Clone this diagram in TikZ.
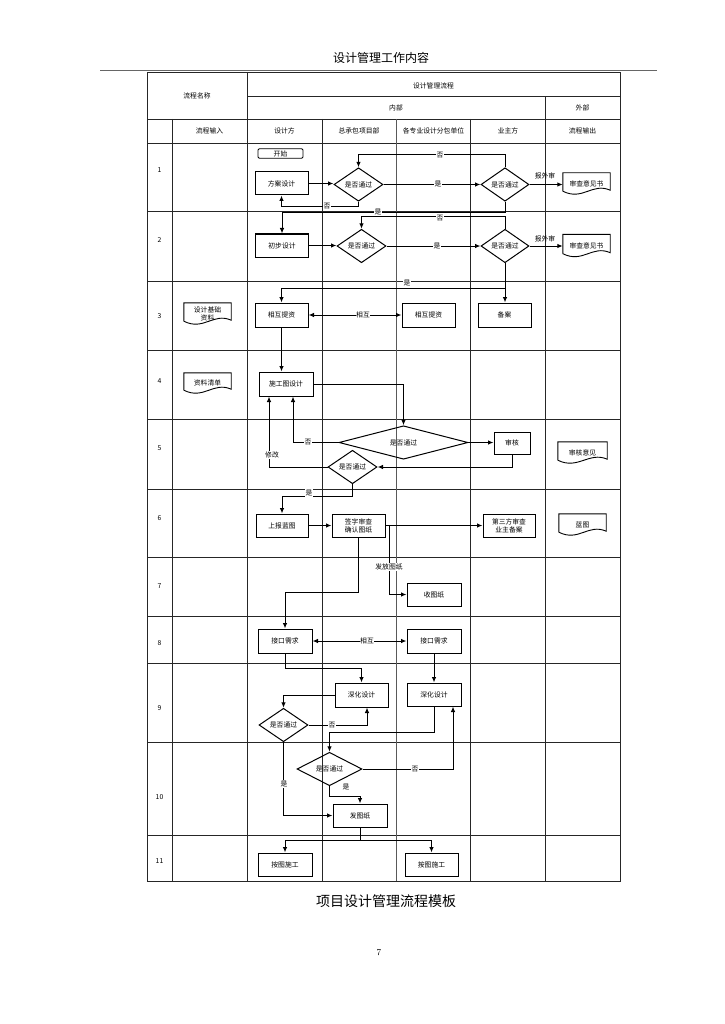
\documentclass[tikz,border=0pt]{standalone}
\usepackage{fontspec}
\newfontfamily\cjk{Noto Sans CJK SC}
\usetikzlibrary{shapes.geometric,arrows.meta,calc}
\tikzset{
  every node/.style={font=\cjk\fontsize{6.8}{8}\selectfont, inner sep=0.5pt},
  box/.style={draw, line width=1pt, minimum width=53pt, minimum height=23pt, align=center},
  dia/.style={diamond, draw, line width=1pt, inner sep=0pt, minimum width=49pt, minimum height=33pt},
  docbox/.style={minimum width=47pt, minimum height=21pt, align=center, inner sep=0pt},
  conn/.style={line width=1pt},
  arr/.style={line width=1pt, -{Latex[length=5.5pt,width=4.5pt]}},
  darr/.style={line width=1pt, {Latex[length=5.5pt,width=4.5pt]}-{Latex[length=5.5pt,width=4.5pt]}},
  lbl/.style={fill=white, inner sep=0.6pt},
  grid/.style={line width=0.8pt, draw=black!85},
}
\newcommand\drawdoc[1]{%
  \draw[line width=0.9pt] ($(#1.south west)+(0,-3)$) -- (#1.north west) -- (#1.north east) -- ($(#1.south east)+(0,-4)$)
    .. controls ($(#1.south east)+(-18,-12)$) and ($(#1.south west)+(20,7)$) .. ($(#1.south west)+(0,-3)$);}
\begin{document}
\begin{tikzpicture}[x=1pt,y=-1pt]
\useasboundingbox[fill=white] (0,0) rectangle (724,1024);
% page header
\node (ptitle) at (381,58) {\fontsize{12}{14}\selectfont 设计管理工作内容};
\draw[line width=1.6pt, draw=black!60] (100,70.5) -- (657,70.5);
% table frame
\draw[grid] (147,72) rectangle (620,881);
\draw[grid] (247,96.7) -- (620,96.7);
\draw[grid] (147,119) -- (620,119);
\foreach \yy in {143,211,281,350,419,489,557,616,663,742,835} {\draw[grid] (147,\yy) -- (620,\yy);}
\draw[grid] (172,119) -- (172,881);
\draw[grid] (247,72) -- (247,881);
\draw[grid] (322,119) -- (322,881);
\draw[line width=1.6pt, draw=black!65] (396.5,119) -- (396.5,881);
\draw[grid] (470.5,119) -- (470.5,881);
\draw[grid] (545,96.7) -- (545,881);
% header texts
\node (h0) at (197,96) {流程名称};
\node (h1) at (433.5,86) {设计管理流程};
\node (h2) at (396,108) {内部};
\node (h3) at (582.5,108) {外部};
\node (c1) at (209.5,131) {流程输入};
\node (c2) at (284.5,131) {设计方};
\node (c3) at (359,131) {总承包项目部};
\node (c4) at (433.5,131) {各专业设计分包单位};
\node (c5) at (508,131) {业主方};
\node (c6h) at (582.5,131) {流程输出};
% row numbers
\node (r1) at (159.5,170) {1};
\node (r2) at (159.5,240) {2};
\node (r3) at (159.5,316) {3};
\node (r4) at (159.5,381) {4};
\node (r5) at (159.5,448) {5};
\node (r6) at (159.5,518) {6};
\node (r7) at (159.5,586) {7};
\node (r8) at (159.5,643) {8};
\node (r9) at (159.5,708) {9};
\node (r10) at (159.5,797) {10};
\node (r11) at (159.5,861) {11};
% row 1
\node[draw, line width=0.9pt, rounded corners=1.2pt, minimum width=45pt, minimum height=9.5pt, inner sep=0pt] (start) at (280.5,153.5) {开始};
\node[box] (s1) at (281.5,183.5) {方案设计};
\node[dia] (d1) at (358.5,184.5) {是否通过};
\node[dia, minimum width=48pt] (d2) at (505,184.5) {是否通过};
\node[docbox] (o1) at (586.5,183.5) {审查意见书}; \drawdoc{o1}
% row 2
\node[box] (s2) at (282,245.5) {初步设计};
\node[dia, minimum height=32pt] (d3) at (361.5,246) {是否通过};
\node[dia, minimum width=48pt, minimum height=32pt] (d4) at (505,246) {是否通过};
\node[docbox, minimum height=22pt] (o2) at (586.5,245.5) {审查意见书}; \drawdoc{o2}
% row 3
\node[docbox] (i3) at (207.5,313.5) {设计基础\\资料}; \drawdoc{i3}
\node[box, minimum height=24pt] (s3) at (281.5,315) {相互提资};
\node[box, minimum height=24pt] (g3) at (428.5,315) {相互提资};
\node[box, minimum height=24pt] (b3) at (504.5,315) {备案};
% row 4
\node[docbox, minimum height=20pt] (i4) at (207.5,383) {资料清单}; \drawdoc{i4}
\node[box, minimum width=54pt, minimum height=24pt] (s4) at (286,384) {施工图设计};
% row 5
\node[dia, minimum width=129pt, minimum height=29pt] (d5) at (403.5,442.5) {是否通过};
\node[box, minimum width=36pt, minimum height=22pt] (a5) at (512,443) {审核};
\node[docbox, minimum width=49pt] (o5) at (582.5,452.5) {审核意见}; \drawdoc{o5}
\node[dia, minimum height=32pt] (d5b) at (352.5,467) {是否通过};
% row 6
\node[box, minimum width=52pt] (s6) at (282,525.5) {上报蓝图};
\node[box] (c6) at (358.5,525.5) {签字审查\\确认图纸};
\node[box, minimum width=52pt] (b6) at (509,525.5) {第三方审查\\业主备案};
\node[docbox] (o6) at (582.5,524.5) {蓝图}; \drawdoc{o6}
% row 7
\node[box, minimum width=54pt] (g7) at (434,594.5) {收图纸};
% row 8
\node[box, minimum width=54pt, minimum height=24pt] (s8) at (285,641) {接口需求};
\node[box, minimum width=54pt, minimum height=24pt] (g8) at (434,641) {接口需求};
% row 9
\node[box, minimum height=24pt] (c9) at (361.5,695) {深化设计};
\node[box, minimum width=54pt] (g9) at (434,694.5) {深化设计};
\node[dia, minimum height=26pt] (d9) at (283.5,725) {是否通过};
% row 10
\node[dia, minimum width=65pt, minimum height=22pt] (d10) at (329.5,769) {是否通过};
\node[box, minimum width=54pt] (c10) at (360,815.5) {发图纸};
% row 11
\node[box, minimum width=54pt] (s11) at (285,864.5) {按图施工};
\node[box] (g11) at (431.5,864.5) {按图施工};

% connectors row 1-2
\draw[arr] (s1.east) -- (s1.east -| d1.west);
\draw[arr] (d1.east) -- (d2.west);
\draw[arr] (d2.east) -- (d2.east -| o1.west);
\draw[arr] (d2.north) -- ++(0,-13) -| (d1.north);
\draw[arr] (d1.south) -- ++(0,5) -| (s1.south);
\draw[arr] (d2.south) -- ++(0,11) -| (s2.north);
\draw[arr] (s2.east) -- (s2.east -| d3.west);
\draw[arr] (d3.east) -- (d4.west);
\draw[arr] (d4.east) -- (d4.east -| o2.west);
\draw[arr] (d4.north) -- ++(0,-12) -| (d3.north);
\node[lbl] (l1) at (438,184.5) {是};
\node (l2) at (545,176) {报外审};
\node[lbl] (l3) at (440,155) {否};
\node[lbl] (l4) at (327,206) {否};
\node[lbl] (l5) at (378,212) {是};
\node[lbl] (l6) at (437,246) {是};
\node (l7) at (545,239) {报外审};
\node[lbl] (l8) at (440,218) {否};
% row 3-4
\draw[arr] (d4.south) -- ++(0,25) -| (s3.north);
\draw[arr] (d4.south) -- (d4.south |- b3.north);
\node[lbl] (l9) at (407,283) {是};
\draw[darr] (s3.east) -- (g3.west);
\node[lbl] (l10) at (363,315) {相互};
\draw[arr] (s3.south) -- (s3.south |- s4.north);
% row 5
\draw[arr] (s4.east) -| (d5.north);
\draw[arr] (d5.west) -| ($(s4.south)+(7,0)$);
\node[lbl] (l11) at (308,442) {否};
\draw[arr] (d5.east) -- (d5.east -| a5.west);
\draw[arr] (a5.south) |- (d5b.east);
\draw[arr] (d5b.west) -| ($(s4.south)+(-17,0)$);
\node[lbl] (l12) at (272,455) {修改};
\draw[arr] (d5b.south) -- ++(0,12) -| (s6.north);
\node[lbl] (l13) at (309,493) {是};
% row 6-7
\draw[arr] (s6.east) -- (c6.west);
\draw[arr] (c6.east) -- (b6.west);
\draw[arr] ($(c6.east)+(4,0)$) |- (g7.west);
\node[lbl] (l14) at (389,567) {发放图纸};
\draw[arr] (c6.south) -- ++(0,55) -| (s8.north);
% row 8-9
\draw[darr] (s8.east) -- (g8.west);
\node[lbl] (l15) at (367,641) {相互};
\draw[arr] (s8.south) -- ++(0,15) -| (c9.north);
\draw[arr] (g8.south) -- (g8.south |- g9.north);
\draw[arr] (c9.west) -| (d9.north);
\draw[arr] (d9.east) -| ($(c9.south)+(5.5,0)$);
\node[lbl] (l16) at (332,725) {否};
\draw[arr] (d9.south) |- (c10.west);
\node[lbl] (l17) at (284,784) {是};
\draw[arr] (g9.south) -- ++(0,26) -| (d10.north);
\draw[arr] (d10.east) -| ($(g9.south)+(19,0)$);
\node[lbl] (l18) at (415,769) {否};
\draw[arr] (d10.south) -- ++(0,10) -| (c10.north);
\node[lbl] (l19) at (346,787) {是};
% row 11
\draw[conn] (c10.south) -- ++(0,13) coordinate (br);
\draw[arr] (br) -| (s11.north);
\draw[arr] (br) -| (g11.north);

% caption and page number
\node (cap) at (386,901) {\fontsize{14}{16}\selectfont 项目设计管理流程模板};
\node[font=\fontsize{9}{10}\selectfont] (pg) at (379,953) {7};
\end{tikzpicture}
\end{document}
